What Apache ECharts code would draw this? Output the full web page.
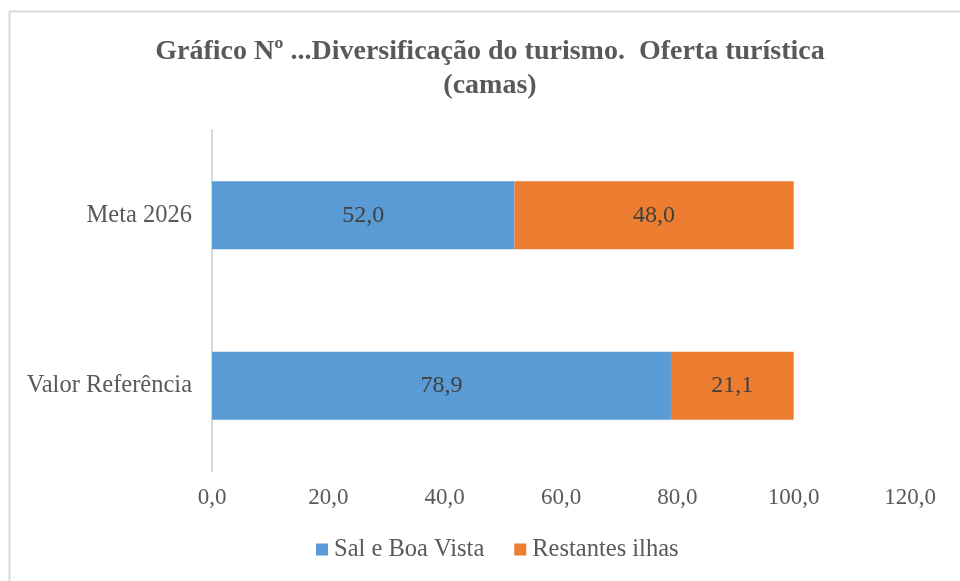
<!DOCTYPE html>
<html>
<head>
<meta charset="utf-8">
<script src="https://cdn.jsdelivr.net/npm/echarts@6/dist/echarts.min.js"></script>
<style>
  html, body { margin: 0; padding: 0; background: #fff; }
  #container { width: 960px; height: 581px; }
</style>
</head>
<body>
<div id="container"></div>
<script>
const categories = ['Valor Referência', 'Meta 2026']
const salBoaVista = [78.9, 52.0]
const restantesIlhas = [21.1, 48.0]
const xTicks = [0, 20, 40, 60, 80, 100, 120]

const fmt = v => Number(v).toFixed(1).replace('.', ',')
const serif = 'Liberation Serif'

let mychart = echarts.init(document.getElementById('container'))

let options = {
    animation: false,
    textStyle: { fontFamily: serif },
    title: {
        text: 'Gráfico Nº ...Diversificação do turismo.  Oferta turística\n(camas)',
        left: 485,
        top: 30,
        textAlign: 'center',
        textStyle: {
            fontFamily: serif,
            fontSize: 28,
            fontWeight: 'bold',
            color: '#595959',
            lineHeight: 34
        }
    },
    graphic: {
        elements: [
            {
                type: 'rect',
                shape: { x: 9.5, y: 11.5, width: 1000, height: 1000 },
                style: { fill: 'none', stroke: '#d9d9d9', lineWidth: 2 },
                silent: true
            }
        ]
    },
    legend: {
        bottom: 14,
        left: 311,
        itemWidth: 12,
        itemHeight: 12,
        itemGap: 30,
        icon: 'rect',
        textStyle: { fontFamily: serif, fontSize: 24.5, color: '#595959', padding: [0, 0, 0, 1] },
        data: ['Sal e Boa Vista', 'Restantes ilhas']
    },
    grid: {
        left: 212,
        right: 50,
        top: 130,
        bottom: 110,
        containLabel: false
    },
    xAxis: {
        type: 'value',
        min: 0,
        max: xTicks[xTicks.length - 1],
        interval: 20,
        axisLine: { show: false },
        axisTick: { show: false },
        splitLine: { show: false },
        axisLabel: {
            formatter: fmt,
            fontFamily: serif,
            fontSize: 23,
            color: '#595959',
            margin: 15
        }
    },
    yAxis: {
        type: 'category',
        data: categories,
        axisLine: { show: true, lineStyle: { color: '#d9d9d9', width: 2 } },
        axisTick: { show: false },
        axisLabel: {
            fontFamily: serif,
            fontSize: 24.5,
            color: '#595959',
            margin: 20
        }
    },
    series: [
        {
            name: 'Sal e Boa Vista',
            type: 'bar',
            stack: 'total',
            barCategoryGap: '60%',
            data: salBoaVista,
            itemStyle: { color: '#5b9bd5' },
            label: {
                show: true,
                position: 'inside',
                formatter: p => fmt(p.value),
                fontFamily: serif,
                fontSize: 24,
                color: '#404040'
            }
        },
        {
            name: 'Restantes ilhas',
            type: 'bar',
            stack: 'total',
            barCategoryGap: '60%',
            data: restantesIlhas,
            itemStyle: { color: '#ed7d31' },
            label: {
                show: true,
                position: 'inside',
                formatter: p => fmt(p.value),
                fontFamily: serif,
                fontSize: 24,
                color: '#404040'
            }
        }
    ]
}

mychart.setOption(options)
window.addEventListener('resize', () => { mychart.resize() })
</script>
</body>
</html>
